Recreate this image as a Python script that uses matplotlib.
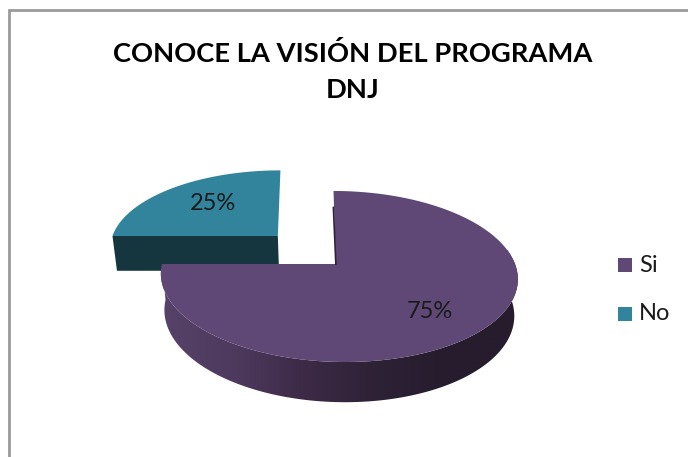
import numpy as np
import matplotlib
matplotlib.use('Agg')
from matplotlib import pyplot as plt
from matplotlib.patches import Polygon, Rectangle
from matplotlib.colors import LinearSegmentedColormap

plt.rcParams['font.family'] = ['Lato', 'DejaVu Sans']

title_lines = ['CONOCE LA VISIÓN DEL PROGRAMA', 'DNJ']
labels = ['Si', 'No']
values = [75, 25]
top_colors = ['#5f4875', '#31849b']
text_color = '#1a1a1a'

# Perspective of the pie plane, in pixels of the image
CX, CY = 338.5, 264
A, B = 176.5, 83.7
SKEW = -5.7
TILT = 0.146
DEPTH = 36
EXPLODE = (-0.35, 0.352)
NO_RADIUS = 0.985


def project(u, v, low=False):
    u = np.asarray(u, dtype=float)
    v = np.asarray(v, dtype=float)
    w = 1 + TILT * v
    if low:
        x = CX + 0.98 * (A * u) / w + SKEW * v / w
        y = CY + (-B * 0.98 * v + DEPTH) / w
    else:
        x = CX + (A * u + SKEW * v) / w
        y = CY - B * v / w
    return x, y


fig = plt.figure(figsize=(6.88, 4.57), dpi=100)
ax = fig.add_axes([0, 0, 1, 1])

# Chart frame, only top and left show in the crop
ax.plot([9, 9, 688], [457, 10, 10], color='#9a9a9a', lw=2, solid_joinstyle='miter')

# Title
for line, y in zip(title_lines, [53, 90]):
    ax.text(353, y, line, ha='center', va='center', fontsize=19.7, fontweight='bold',
            color='black')

# Slices run clockwise from 12 o'clock
fracs = np.array(values) / sum(values)
starts = np.pi / 2 - 2 * np.pi * np.r_[0, np.cumsum(fracs)[:-1]]
ends = starts - 2 * np.pi * fracs

# No slice first, it sits behind
edge_u = [NO_RADIUS * np.cos(starts[1]) + EXPLODE[0], EXPLODE[0]]
edge_v = [NO_RADIUS * np.sin(starts[1]) + EXPLODE[1], EXPLODE[1]]
ux, uy = project(edge_u, edge_v)
lx, ly = project(edge_u, edge_v, low=True)
ax.add_patch(Polygon([(ux[0], uy[0]), (ux[1], uy[1]), (lx[1], ly[1]), (lx[0], ly[0])],
                     fc='#15353f', ec='none', zorder=2))
t = np.linspace(starts[1], ends[1], 80)
px, py = project(np.r_[EXPLODE[0], NO_RADIUS * np.cos(t) + EXPLODE[0]],
                 np.r_[EXPLODE[1], NO_RADIUS * np.sin(t) + EXPLODE[1]])
ax.add_patch(Polygon(np.c_[px, py], fc=top_colors[1], ec='none', zorder=3))

# Si slice, curved side is one gradient clipped to the rim
t = np.linspace(np.pi, 2 * np.pi + 0.25, 200)
x_top, y_top = project(np.cos(t), np.sin(t))
x_low, y_low = project(np.cos(t), np.sin(t), low=True)
side = Polygon(np.c_[np.r_[x_top, x_low[::-1]], np.r_[y_top, y_low[::-1]]],
               fc='none', ec='none', zorder=4)
ax.add_patch(side)
side_cmap = LinearSegmentedColormap.from_list(
    'side', ['#574269', '#4e3a5e', '#3d2a47', '#2e2236', '#261c2e', '#261c2e'])
im = ax.imshow(np.linspace(0, 1, 256)[None, :], cmap=side_cmap, aspect='auto',
               extent=(160, 518, 420, 250), zorder=4)
im.set_clip_path(side)

t = np.linspace(starts[0], ends[0], 200)
px, py = project(np.r_[-0.015, np.cos(t)], np.r_[0, np.sin(t)])
ax.add_patch(Polygon(np.c_[px, py], fc=top_colors[0], ec='none', zorder=5))

# Thin dark sliver of the inner wall
sx, sy = project([-0.015, -0.008], [0, 0.75])
ax.plot(sx, sy, color='#2e2236', lw=1.2, zorder=6)

# Percent labels
ax.text(213, 203, f'{values[1]}%', ha='center', va='center', fontsize=17, color=text_color, zorder=6)
ax.text(430, 312, f'{values[0]}%', ha='center', va='center', fontsize=17, color=text_color, zorder=6)

# Legend
for i, (lab, col) in enumerate(zip(labels, top_colors)):
    y = 265 + 49 * i
    ax.add_patch(Rectangle((618, y - 7), 14, 14, fc=col, ec='none', zorder=6))
    ax.text(639, y, lab, ha='left', va='center', fontsize=17, color=text_color, zorder=6)

ax.set_xlim(0, 688)
ax.set_ylim(457, 0)
ax.axis('off')

fig.savefig('out.png', dpi=100)
